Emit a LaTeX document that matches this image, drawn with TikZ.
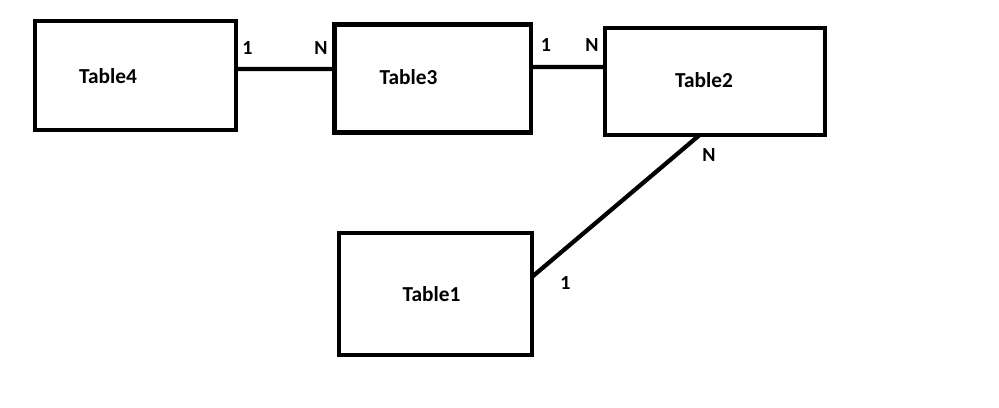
\documentclass[tikz,border=0pt]{standalone}
\usepackage{fontspec}
\setmainfont{Carlito}
\usetikzlibrary{calc}
\tikzset{
  tablebox/.style={draw=black,line width=3.2pt,fill=white,inner sep=0pt,outer sep=0pt},
  tablename/.style={font=\bfseries\fontsize{16}{18}\selectfont,text=black,inner sep=0pt},
  card/.style={font=\bfseries\fontsize{15}{17}\selectfont,text=black,inner sep=0pt},
  link/.style={draw=black,line width=3.2pt}
}
\begin{document}
\begin{tikzpicture}[x=0.75pt,y=-0.75pt]
\path[use as bounding box] (0,0) rectangle (999,407);
\node[tablebox,minimum width=201*0.75pt,minimum height=109*0.75pt,anchor=north west] (t4) at (35,21) {};
\node[tablebox,minimum width=196.5*0.75pt,minimum height=108*0.75pt,anchor=north west] (t3) at (334.5,24.5) {};
\node[tablebox,minimum width=220*0.75pt,minimum height=107*0.75pt,anchor=north west] (t2) at (605,28) {};
\node[tablebox,minimum width=193*0.75pt,minimum height=122*0.75pt,anchor=north west] (t1) at (339,233) {};
\node[tablename] (n4) at (108,76) {Table4}; \node[tablename] (n3) at (408.5,77) {Table3}; \node[tablename] (n2) at (704,80) {Table2}; \node[tablename] (n1) at (431.5,294) {Table1};
\draw[link] ($(t4.north east)!0.44!(t4.south east)$) -- ($(t3.north west)!0.412!(t3.south west)$);
\draw[link] ($(t3.north east)!0.394!(t3.south east)$) -- ($(t2.north west)!0.364!(t2.south west)$);
\draw[link] ($(t2.south west)!0.43!(t2.south east)$) -- ($(t1.north east)!0.36!(t1.south east)$);
\node[card] (c43a) at (247.5,48.5) {1}; \node[card] (c43b) at (321,48.5) {N};
\node[card] (c32a) at (546,45.5) {1}; \node[card] (c32b) at (592,45.5) {N};
\node[card] (c21a) at (709,155.5) {N}; \node[card] (c21b) at (565.5,283) {1};
\end{tikzpicture}
\end{document}
